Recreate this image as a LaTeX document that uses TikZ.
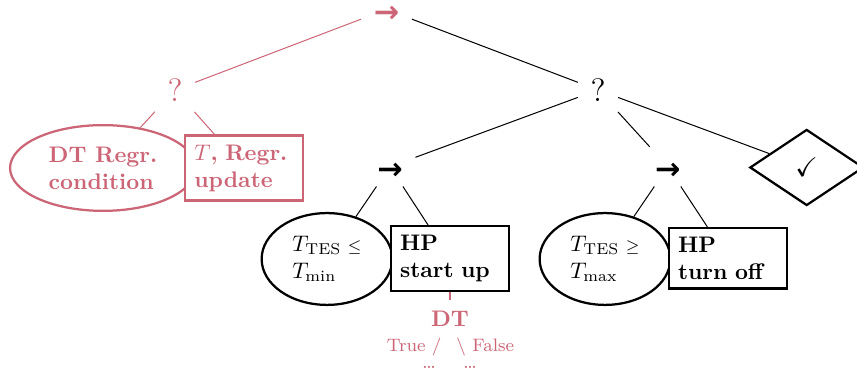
\documentclass[tikz,border=0pt]{standalone}
\usepackage{amsmath,amssymb}
\usepackage{fontspec}
\newfontfamily\arrowfont{DejaVu Sans}
\usetikzlibrary{shapes.geometric}
\definecolor{rose}{HTML}{CC6677}
\newcommand{\seqsym}{{\arrowfont\bfseries\fontsize{13.5}{14}\selectfont →}}
\begin{document}
\begin{tikzpicture}[x=0.4444pt,y=-0.4444pt,
  seqnode/.style={inner sep=0pt,minimum width=22.2pt,minimum height=17.2pt,
                  text height=11.2pt,text depth=0pt},
  selnode/.style={inner sep=0pt,minimum width=17.5pt,minimum height=19.1pt,font=\Large},
  condnode/.style={ellipse,draw,line width=1pt,inner sep=0pt,align=left,
                   minimum width=58.1pt,minimum height=40.8pt},
  actnode/.style={rectangle,draw,fill=white,line width=1pt,inner sep=4pt,
                  text width=44.4pt,align=left,font=\bfseries},
  link/.style={line width=0.45pt},
  lbl/.style={text=rose,font=\footnotesize,inner sep=0pt},
]
\useasboundingbox (0,0) rectangle (857,374);

% control-flow nodes
\node[seqnode,text=rose] (root) at (386.5,9.5) {\seqsym};
\node[selnode,text=rose] (selL) at (175,90) {?};
\node[selnode] (selR) at (598,90) {?};
\node[seqnode] (seqA) at (390,166.7) {\seqsym};
\node[seqnode] (seqB) at (667.8,166.7) {\seqsym};

% leaves: conditions (ellipses) and actions (boxes)
\node[condnode,draw=rose,text=rose,font=\bfseries,
      minimum width=82.6pt,minimum height=38.1pt] (dtc) at (103,168) {DT Regr.\\condition};
\node[actnode,draw=rose,text=rose] (upd) at (244.3,168) {$T$, Regr.\\update};
\node[condnode] (cmin) at (327,259) {$T_{\mathrm{TES}}\mathrel{\scriptstyle\leq}$\\$T_{\min}$};
\node[actnode] (hpon) at (450,258.7) {HP\\start up};
\node[condnode] (cmax) at (605,259) {$T_{\mathrm{TES}}\mathrel{\scriptstyle\geq}$\\$T_{\max}$};
\node[actnode] (hpoff) at (728,258.3) {HP\\turn off};
\node[diamond,draw,line width=1pt,inner sep=0pt,minimum width=50.5pt,
      minimum height=33.8pt,font=\large] (done) at (806.7,167.5) {$\checkmark$};

% tree edges
\draw[link,rose] (root) -- (selL);
\draw[link] (root) -- (selR);
\draw[link,rose] (selL) -- (dtc);
\draw[link,rose] (selL) -- (upd);
\draw[link] (selR) -- (seqA);
\draw[link] (selR) -- (seqB);
\draw[link] (selR) -- (done);
\draw[link] (seqA) -- (cmin);
\draw[link] (seqA) -- (hpon);
\draw[link] (seqB) -- (cmax);
\draw[link] (seqB) -- (hpoff);

% decision tree hanging below the start-up action
\node[text=rose,font=\bfseries,inner xsep=0pt,inner ysep=5pt] (dt) at (450,319) {DT};
\draw[link,rose] (hpon) -- (dt);
\node[lbl,anchor=base east] (tru) at (442,351.7) {True /};
\node[lbl,anchor=base west] (fls) at (456,351.7) {$\backslash$ False};
\node[lbl,font=\small,anchor=base] (d1) at (429,368.3) {\dots};
\node[lbl,font=\small,anchor=base] (d2) at (470,368.3) {\dots};
\end{tikzpicture}
\end{document}
